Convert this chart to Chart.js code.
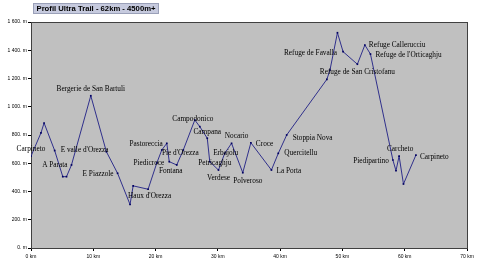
<!DOCTYPE html>
<html>
<head>
<meta charset="utf-8">
<script src="https://cdn.jsdelivr.net/npm/chart.js@4/dist/chart.umd.min.js"></script>
<style>
  body { margin: 0; background: #fff; }
  canvas { display: block; }
</style>
</head>
<body>
<canvas id="profil" width="482" height="266"></canvas>
<script>
const titleText = "Profil Ultra Trail - 62km - 4500m+";

// distance (km), altitude (m) and place name of every vertex of the profile
const distances = [0, 1.6, 2.1, 3.8, 5.1, 5.7, 6.5, 9.6, 12.1, 13.9, 15.9, 16.4, 18.8, 20.2, 21.0, 21.8, 22.2, 23.4, 24.45, 26.3, 27.1, 28.3, 28.7, 30.1, 31.1, 32.2, 34.0, 35.3, 38.6, 39.7, 41.05, 47.5, 48.0, 49.2, 50.1, 52.4, 53.6, 54.5, 58.1, 58.6, 59.1, 59.8, 61.8];
const altitudes = [650, 815, 885, 690, 505, 505, 588, 1078, 682, 529, 308, 440, 416, 602, 694, 741, 611, 588, 694, 906, 859, 777, 611, 552, 670, 741, 533, 745, 552, 670, 800, 1194, 1260, 1524, 1390, 1301, 1437, 1373, 623, 547, 651, 453, 658];
const places = ["Carpineto", "", "", "E valle d'Orezza", "", "", "A Parata", "Bergerie de San Bartuli", "", "E Piazzole", "Haux d'Orezza", "", "", "", "", "Pastoreccia", "Piedicroce", "Fontana", "Pie d'Orezza", "Campodonico", "", "Campana", "Petricaghju", "Verdese", "Erbajolu", "Nocario", "Polveroso", "Croce", "La Porta", "Quercitellu", "Stoppia Nova", "", "", "", "Refuge de Favalla", "Refuge de San Cristofanu", "Refuge Callerucciu", "Refuge de l'Orticaghju", "Piedipartino", "", "Carcheto", "", "Carpineto"];

const xTicks = [0, 10, 20, 30, 40, 50, 60, 70];
const yTicks = [0, 200, 400, 600, 800, 1000, 1200, 1400, 1600];

// where each name sits relative to its marker: dx, dy, text align
const labelPlace = {
  0: [0, -7, "center"], 3: [6, 0, "left"], 6: [-4, 0, "right"], 7: [0, -7, "center"],
  9: [-4, 1, "right"], 10: [-2, -8, "left"], 15: [-4, 1, "right"], 16: [-5, 1, "right"],
  17: [-6, 6, "center"], 18: [-3, 3, "center"], 19: [-2, -1, "center"], 21: [0, -6, "center"],
  22: [5, 1, "center"], 23: [0, 8, "center"], 24: [1, 0, "center"], 25: [5, -7, "center"],
  26: [5, 8, "center"], 27: [5, 1, "left"], 28: [5, 1, "left"], 29: [6, 0, "left"],
  30: [6, 3, "left"], 34: [-6, 1, "right"], 35: [0, 8, "center"], 36: [4, 0, "left"],
  37: [5, 1, "left"], 38: [-4, 1, "right"], 40: [1, -7, "center"], 42: [4, 2, "left"]
};

function fmtAlt(v) {
  const s = String(v);
  return (v >= 1000 ? s.slice(0, s.length - 3) + " " + s.slice(-3) : s) + ". m";
}

const plotFrame = {
  id: "plotFrame",
  beforeDatasetsDraw(chart) {
    const { ctx, chartArea: a } = chart;
    ctx.save();
    ctx.fillStyle = "#c0c0c0";
    ctx.fillRect(a.left, a.top, a.right - a.left, a.bottom - a.top);
    ctx.strokeStyle = "#404040";
    ctx.lineWidth = 1;
    ctx.strokeRect(a.left + 0.5, a.top + 0.5, a.right - a.left, a.bottom - a.top);
    ctx.restore();
  },
  afterDraw(chart) {
    const ctx = chart.ctx;
    ctx.save();
    ctx.fillStyle = "#c6cade";
    ctx.fillRect(33, 3, 126, 11);
    ctx.strokeStyle = "#9aa0b8";
    ctx.strokeRect(33.5, 3.5, 125, 10);
    ctx.fillStyle = "#000";
    ctx.font = "bold 7.7px 'Liberation Sans', Arial, sans-serif";
    ctx.textAlign = "center";
    ctx.textBaseline = "middle";
    ctx.fillText(titleText, 96, 8.8);
    ctx.restore();
  }
};

const placeNames = {
  id: "placeNames",
  afterDatasetsDraw(chart) {
    const ctx = chart.ctx;
    const pts = chart.getDatasetMeta(0).data;
    ctx.save();
    ctx.fillStyle = "#000";
    ctx.font = "7.3px 'Liberation Serif', 'Times New Roman', serif";
    ctx.textBaseline = "middle";
    places.forEach((name, i) => {
      if (!name) return;
      const p = labelPlace[i];
      ctx.textAlign = p[2];
      ctx.fillText(name, pts[i].x + p[0], pts[i].y + p[1]);
    });
    ctx.restore();
  }
};

new Chart(document.getElementById("profil"), {
  type: "scatter",
  data: {
    datasets: [{
      data: distances.map((d, i) => ({ x: d, y: altitudes[i] })),
      showLine: true,
      borderColor: "#30308c",
      borderWidth: 1,
      pointStyle: "rect",
      pointRadius: 1.2,
      pointBackgroundColor: "#000060",
      pointBorderColor: "#000060",
      pointBorderWidth: 0
    }]
  },
  options: {
    responsive: false,
    animation: false,
    devicePixelRatio: 1,
    layout: { padding: { left: 0, right: 15, top: 22, bottom: 0 } },
    plugins: { legend: { display: false }, tooltip: { enabled: false } },
    scales: {
      x: {
        type: "linear", min: 0, max: 70,
        afterFit(s) { s.height = 18; },
        afterBuildTicks(s) { s.ticks = xTicks.map(v => ({ value: v })); },
        ticks: {
          callback: v => v + " km",
          font: { size: 5, family: "'Liberation Sans', Arial, sans-serif" },
          color: "#000", padding: 3, maxRotation: 0
        },
        grid: { drawOnChartArea: false, tickLength: 3, color: "#000" },
        border: { color: "#000", width: 1 }
      },
      y: {
        type: "linear", min: 0, max: 1600,
        afterFit(s) { s.width = 31; },
        afterBuildTicks(s) { s.ticks = yTicks.map(v => ({ value: v })); },
        ticks: {
          callback: v => fmtAlt(v),
          font: { size: 5, family: "'Liberation Sans', Arial, sans-serif" },
          color: "#000", padding: 1
        },
        grid: { drawOnChartArea: false, tickLength: 3, color: "#000" },
        border: { color: "#000", width: 1 }
      }
    }
  },
  plugins: [plotFrame, placeNames]
});
</script>
</body>
</html>
